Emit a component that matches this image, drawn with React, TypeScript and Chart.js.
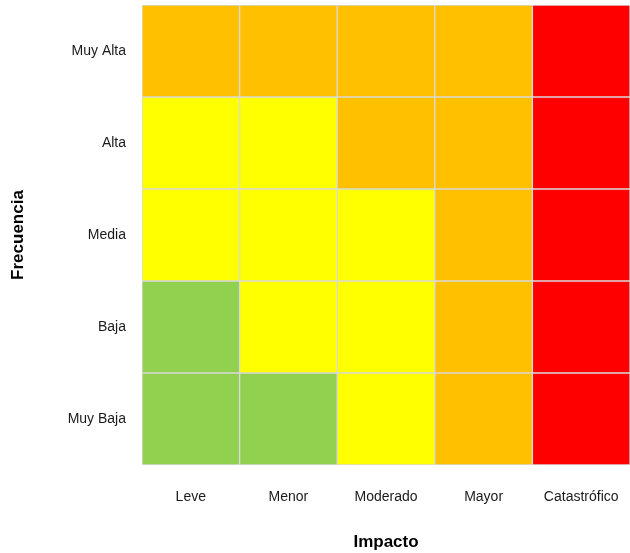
import React, { useEffect, useRef } from "react";
import { Chart, registerables } from "chart.js";

Chart.register(...registerables);

// Impact categories (x axis)
const impactLabels = ["Leve", "Menor", "Moderado", "Mayor", "Catastrófico"];
// Frequency levels, bottom to top (y axis)
const frequencyLabels = ["Muy Baja", "Baja", "Media", "Alta", "Muy Alta"];

// Risk level of each cell, one array per frequency row (left to right by impact)
const riskMuyBaja = ["Bajo", "Bajo", "Moderado", "Alto", "Extremo"];
const riskBaja = ["Bajo", "Moderado", "Moderado", "Alto", "Extremo"];
const riskMedia = ["Moderado", "Moderado", "Moderado", "Alto", "Extremo"];
const riskAlta = ["Moderado", "Moderado", "Alto", "Alto", "Extremo"];
const riskMuyAlta = ["Alto", "Alto", "Alto", "Alto", "Extremo"];

// Every cell spans one unit of frequency
const cellSpan = [1, 1, 1, 1, 1];

const riskColors: Record<string, string> = {
  Bajo: "#92D050",
  Moderado: "#FFFF00",
  Alto: "#FFC000",
  Extremo: "#FF0000",
};

const rows = [riskMuyBaja, riskBaja, riskMedia, riskAlta, riskMuyAlta];

const zeroPadding = (scale: any) => {
  scale.paddingTop = 0;
  scale.paddingBottom = 0;
  scale.paddingLeft = 0;
  scale.paddingRight = 0;
};

export default function App() {
  const canvasRef = useRef<HTMLCanvasElement | null>(null);

  useEffect(() => {
    if (!canvasRef.current) return;
    const font = "'Liberation Sans', Arial, sans-serif";
    const chart = new Chart(canvasRef.current, {
      type: "bar",
      data: {
        labels: impactLabels,
        datasets: rows.map((row, i) => ({
          label: frequencyLabels[i],
          data: cellSpan,
          backgroundColor: row.map((r) => riskColors[r]),
          borderColor: "#D9D9D9",
          borderWidth: 1,
          borderSkipped: false,
          barPercentage: 1,
          categoryPercentage: 1,
        })),
      },
      options: {
        animation: false,
        responsive: true,
        maintainAspectRatio: false,
        layout: { padding: { left: 8, top: 5, right: 0, bottom: 0 } },
        plugins: {
          legend: { display: false },
          tooltip: { enabled: false },
        },
        scales: {
          x: {
            type: "category",
            stacked: true,
            grid: { display: false, drawTicks: false },
            border: { display: false },
            ticks: {
              color: "#1a1a1a",
              font: { family: font, size: 14 },
              padding: 24,
              maxRotation: 0,
              autoSkip: false,
            },
            title: {
              display: true,
              text: "Impacto",
              color: "#000",
              font: { family: font, size: 17, weight: "bold" },
              padding: { top: 0, bottom: 0 },
            },
            afterFit: (scale: any) => {
              scale.height = 88;
              zeroPadding(scale);
            },
          },
          y: {
            type: "linear",
            stacked: true,
            min: 0,
            max: 5,
            grid: { display: false, drawTicks: false },
            border: { display: false },
            afterBuildTicks: (scale: any) => {
              scale.ticks = frequencyLabels.map((_, i) => ({ value: i + 0.5 }));
            },
            ticks: {
              color: "#1a1a1a",
              font: { family: font, size: 14 },
              padding: 16,
              callback: (value: any) => frequencyLabels[Math.floor(Number(value))] ?? "",
            },
            title: {
              display: true,
              text: "Frecuencia",
              color: "#000",
              font: { family: font, size: 17, weight: "bold" },
              padding: { top: 0, bottom: 0 },
            },
            afterFit: (scale: any) => {
              scale.width = 134;
              zeroPadding(scale);
            },
          },
        },
      },
    });
    return () => chart.destroy();
  }, []);

  return (
    <div style={{ position: "absolute", left: 0, top: 0, width: 630, height: 553 }}>
      <canvas ref={canvasRef} />
    </div>
  );
}
